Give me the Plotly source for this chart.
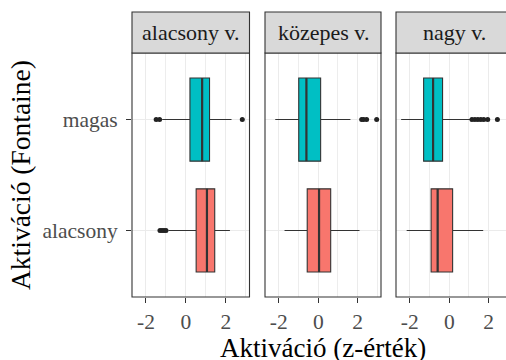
import plotly.graph_objects as go

# Facets (activation level groups) and the two Fontaine activation levels
facets = ["alacsony v.", "közepes v.", "nagy v."]
levels = ["alacsony", "magas"]

# Box statistics per facet, ordered as in `levels`
q1 = {
    "alacsony v.": [0.51, 0.20],
    "közepes v.": [-0.56, -0.99],
    "nagy v.": [-0.92, -1.30],
}
median = {
    "alacsony v.": [1.05, 0.81],
    "közepes v.": [0.04, -0.60],
    "nagy v.": [-0.59, -0.82],
}
q3 = {
    "alacsony v.": [1.44, 1.18],
    "közepes v.": [0.63, 0.12],
    "nagy v.": [0.17, -0.34],
}
lower = {
    "alacsony v.": [-0.88, -1.19],
    "közepes v.": [-1.71, -2.18],
    "nagy v.": [-2.16, -2.44],
}
upper = {
    "alacsony v.": [2.20, 2.28],
    "közepes v.": [2.09, 1.63],
    "nagy v.": [1.72, 1.05],
}
outliers = {
    "alacsony v.": [[-1.30, -1.20, -1.10, -1.00], [-1.49, -1.32, 2.82]],
    "közepes v.": [[], [2.20, 2.30, 2.45, 2.96]],
    "nagy v.": [[], [1.15, 1.30, 1.45, 1.60, 1.75, 1.95, 2.44]],
}

x_ticks = [-2, 0, 2]
fill_colors = ["#F8766D", "#00BFC4"]

W, H = 506, 360
FONT = "Liberation Serif"
BOX_W = 0.75
EDGE = "#333333"

# panel geometry (pixels)
panel_px = [(132, 249.5), (265, 381), (396, 512)]
top_px, bottom_px = 53, 297
strip_top_px = 12

def px_x(v):
    return v / W

def px_y(v):
    return 1 - v / H

fig = go.Figure()

x_range = [-2.7, 3.18]

for i, f in enumerate(facets):
    suffix = "" if i == 0 else str(i + 1)
    xa, ya = "x" + suffix, "y" + suffix
    for j, lev in enumerate(levels):
        fig.add_trace(go.Box(
            orientation="h",
            y=[j], q1=[q1[f][j]], median=[median[f][j]], q3=[q3[f][j]],
            lowerfence=[lower[f][j]], upperfence=[upper[f][j]],
            width=BOX_W, whiskerwidth=0, boxpoints=False,
            fillcolor=fill_colors[j], line=dict(color=EDGE, width=1.1),
            xaxis=xa, yaxis=ya, showlegend=False, hoverinfo="skip",
        ))
        # thicker median bar
        fig.add_trace(go.Scatter(
            x=[median[f][j], median[f][j]], y=[j - BOX_W / 2, j + BOX_W / 2],
            mode="lines", line=dict(color=EDGE, width=2.2),
            xaxis=xa, yaxis=ya, showlegend=False, hoverinfo="skip",
        ))
        if outliers[f][j]:
            fig.add_trace(go.Scatter(
                x=outliers[f][j], y=[j] * len(outliers[f][j]),
                mode="markers", marker=dict(color="#222222", size=5),
                xaxis=xa, yaxis=ya, showlegend=False, hoverinfo="skip",
            ))

    x0, x1 = panel_px[i]
    dom_x1 = min(x1, W)
    rng = list(x_range)
    if x1 > W:
        rng[1] = x_range[0] + (x_range[1] - x_range[0]) * (W - x0) / (x1 - x0)
    fig.layout["xaxis" + suffix] = dict(
        domain=[px_x(x0), px_x(dom_x1)], anchor=ya, range=rng,
        tickvals=x_ticks, ticktext=[str(t) for t in x_ticks],
        ticks="outside", ticklen=5, tickwidth=1, tickcolor=EDGE,
        tickfont=dict(family=FONT, size=21.5, color="#4D4D4D"),
        showgrid=True, gridcolor="#EBEBEB", gridwidth=1.1,
        minor=dict(dtick=1, tick0=0, showgrid=True, gridcolor="#EDEDED", gridwidth=0.7),
        zeroline=False, showline=False, automargin=False,
    )
    fig.layout["yaxis" + suffix] = dict(
        domain=[px_y(bottom_px), px_y(top_px)], anchor=xa, range=[-0.6, 1.6],
        tickvals=[0, 1], ticktext=levels,
        showticklabels=(i == 0), ticks="outside" if i == 0 else "",
        ticklen=5, tickwidth=1, tickcolor=EDGE, ticklabelstandoff=4,
        tickfont=dict(family=FONT, size=21.5, color="#4D4D4D"),
        showgrid=True, gridcolor="#EBEBEB", gridwidth=1.1,
        zeroline=False, showline=False, automargin=False,
    )

    # panel border
    fig.add_shape(type="rect", xref="paper", yref="paper", layer="above",
                  x0=px_x(x0), x1=px_x(x1), y0=px_y(bottom_px), y1=px_y(top_px),
                  line=dict(color=EDGE, width=1.1), fillcolor="rgba(0,0,0,0)")
    # facet strip
    fig.add_shape(type="rect", xref="paper", yref="paper", layer="above",
                  x0=px_x(x0), x1=px_x(x1), y0=px_y(top_px), y1=px_y(strip_top_px),
                  line=dict(color=EDGE, width=1.1), fillcolor="#D9D9D9")
    fig.add_annotation(text=f, xref="paper", yref="paper",
                       x=px_x((x0 + x1) / 2), y=px_y((top_px + strip_top_px) / 2),
                       xanchor="center", yanchor="middle", showarrow=False,
                       font=dict(family=FONT, size=22, color="#1A1A1A"))

# axis titles
fig.add_annotation(text="Aktiváció (z-érték)", xref="paper", yref="paper",
                   x=px_x(323), y=px_y(347.5), xanchor="center", yanchor="middle",
                   showarrow=False, font=dict(family=FONT, size=27, color="black"))
fig.add_annotation(text="Aktiváció (Fontaine)", xref="paper", yref="paper",
                   x=px_x(20), y=px_y((top_px + bottom_px) / 2), textangle=-90,
                   xanchor="center", yanchor="middle",
                   showarrow=False, font=dict(family=FONT, size=27.5, color="black"))

fig.update_layout(
    width=W, height=H, margin=dict(l=0, r=0, t=0, b=0),
    paper_bgcolor="white", plot_bgcolor="white",
)

fig.write_html("out.html")
